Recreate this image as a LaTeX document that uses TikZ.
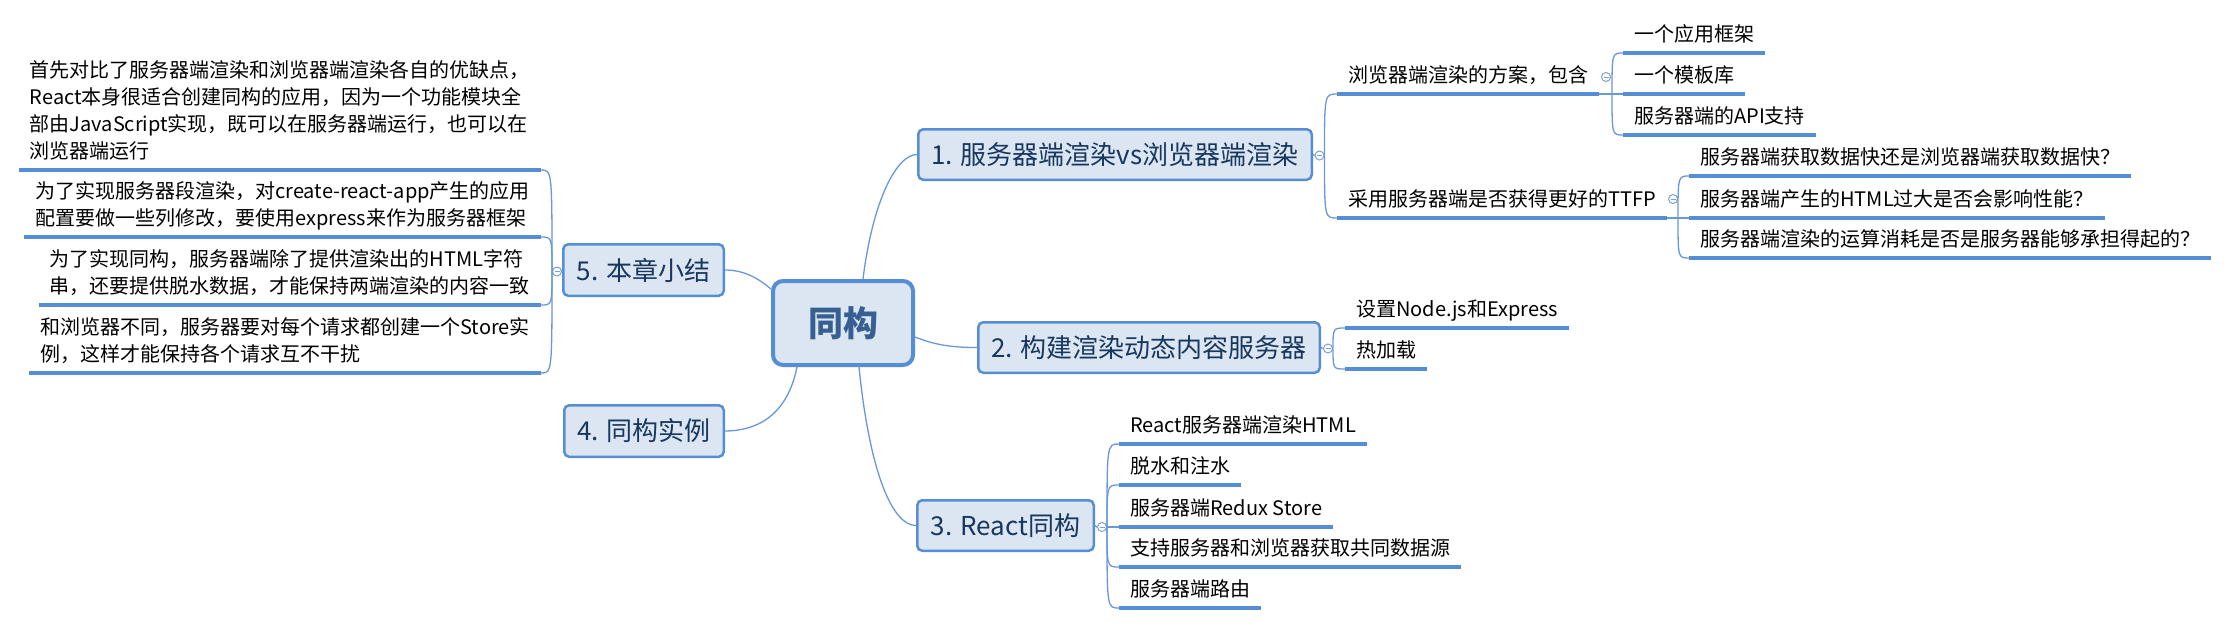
\documentclass[tikz,border=0pt]{standalone}
\usepackage{fontspec}
\setmainfont{Noto Sans CJK SC}
\definecolor{tfill}{RGB}{220,230,242}
\definecolor{tborder}{RGB}{85,142,213}
\definecolor{ttext}{RGB}{23,55,94}
\definecolor{rtext}{RGB}{55,96,146}
\definecolor{connc}{RGB}{105,152,216}
\definecolor{ulc}{RGB}{85,142,213}
\definecolor{btnc}{RGB}{125,160,215}
\tikzset{
 rootbox/.style={draw=tborder, fill=tfill, line width=4pt, rounded corners=10pt, minimum width=140pt, minimum height=84pt, inner sep=0pt, text=rtext, font=\fontsize{35}{40}\selectfont\bfseries},
 topicbox/.style={draw=tborder, fill=tfill, line width=2.5pt, rounded corners=5pt, inner sep=0pt, text=ttext, font=\fontsize{26}{30}\selectfont},
 leaf/.style={inner xsep=11pt, inner ysep=0pt, text depth=11.5pt, font=\fontsize{20}{27}\selectfont, text=black},
 leafml/.style={inner xsep=11pt, inner ysep=0pt, align=left, font=\fontsize{20}{27}\selectfont, text=black},
 uline/.style={draw=ulc, line width=3.5pt},
 conn/.style={draw=connc, line width=1.3pt},
 btn/.style={circle, draw=btnc, fill=white, line width=1pt, minimum size=9pt, inner sep=0pt,
   path picture={\draw[btnc, line width=0.9pt] ([xshift=-2.5pt]path picture bounding box.center) -- ([xshift=2.5pt]path picture bounding box.center);}},
}
\newcommand{\lastdp}{\rule[-11.5pt]{0pt}{11.5pt}}
\begin{document}
\begin{tikzpicture}[x=1pt,y=-1pt]
\useasboundingbox (0,0) rectangle (2230,625);
\fill[white] (0,0) rectangle (2230,625);

% root and main topics
\node[rootbox] (root) at (843,323) {同构};
\node[topicbox, minimum width=393.5pt, minimum height=50.5pt] (t1) at (1115,154.5) {1. 服务器端渲染vs浏览器端渲染};
\node[topicbox, minimum width=341.5pt, minimum height=50.5pt] (t2) at (1149,347.5) {2. 构建渲染动态内容服务器};
\node[topicbox, minimum width=176.5pt, minimum height=50.5pt] (t3) at (1005.5,525.5) {3. React同构};
\node[topicbox, minimum width=159.5pt, minimum height=51.5pt] (t4) at (644,431) {4. 同构实例};
\node[topicbox, minimum width=160.5pt, minimum height=51.5pt] (t5) at (643.5,270) {5. 本章小结};

% collapse buttons
\node[btn] (k1) at (1319.5,155.5) {};
\node[btn] (k2) at (1328,348.5) {};
\node[btn] (k3) at (1102,527) {};
\node[btn] (k5) at (557,271.5) {};
\node[btn] (ks1) at (1606,77) {};
\node[btn] (ks2) at (1673,199) {};
\coordinate (js1) at (1612,94);
\coordinate (js2) at (1678,218);

% leaves of topic 1
\node[leaf, anchor=south west] (s1) at (1337,94) {浏览器端渲染的方案，包含};
\node[leaf, anchor=south west] (s2) at (1337,218) {采用服务器端是否获得更好的TTFP};
\node[leaf, anchor=south west] (a1) at (1623,53) {一个应用框架};
\node[leaf, anchor=south west] (a2) at (1623,94) {一个模板库};
\node[leaf, anchor=south west] (a3) at (1623,135) {服务器端的API支持};
\node[leaf, anchor=south west] (b1) at (1689,176) {服务器端获取数据快还是浏览器端获取数据快？};
\node[leaf, anchor=south west] (b2) at (1689,218) {服务器端产生的HTML过大是否会影响性能？};
\node[leaf, anchor=south west] (b3) at (1689,258) {服务器端渲染的运算消耗是否是服务器能够承担得起的？};
% leaves of topic 2
\node[leaf, anchor=south west] (n1) at (1345,328) {设置Node.js和Express};
\node[leaf, anchor=south west] (n2) at (1345,369) {热加载};
% leaves of topic 3
\node[leaf, anchor=south west] (r1) at (1119,444) {React服务器端渲染HTML};
\node[leaf, anchor=south west] (r2) at (1119,485) {脱水和注水};
\node[leaf, anchor=south west] (r3) at (1119,527) {服务器端Redux Store};
\node[leaf, anchor=south west] (r4) at (1119,567) {支持服务器和浏览器获取共同数据源};
\node[leaf, anchor=south west] (r5) at (1119,608) {服务器端路由};
% leaves of topic 5
\node[leafml, anchor=south east] (m1) at (541,170) {首先对比了服务器端渲染和浏览器端渲染各自的优缺点，\\React本身很适合创建同构的应用，因为一个功能模块全\\部由JavaScript实现，既可以在服务器端运行，也可以在\\浏览器端运行\lastdp};
\node[leafml, anchor=south east] (m2) at (541,237) {为了实现服务器段渲染，对create-react-app产生的应用\\配置要做一些列修改，要使用express来作为服务器框架\lastdp};
\node[leafml, anchor=south east] (m3) at (541,305) {为了实现同构，服务器端除了提供渲染出的HTML字符\\串，还要提供脱水数据，才能保持两端渲染的内容一致\lastdp};
\node[leafml, anchor=south east] (m4) at (541,373) {和浏览器不同，服务器要对每个请求都创建一个Store实\\例，这样才能保持各个请求互不干扰\lastdp};

% underlines
\foreach \q in {s1,s2,a1,a2,a3,b1,b2,b3,n1,n2,r1,r2,r3,r4,r5,m1,m2,m3,m4}
  \draw[uline] (\q.south west) -- (\q.south east);

% root connectors
\draw[conn] ([xshift=20pt]root.north) .. controls +(10,-80) and +(-20,0) .. (t1.west);
\draw[conn] ([yshift=-14pt]root.east) .. controls +(20,8) and +(-25,0) .. (t2.west);
\draw[conn] ([xshift=16pt]root.south) .. controls +(10,100) and +(-25,0) .. (t3.west);
\draw[conn] ([xshift=-46pt]root.south) .. controls +(-10,50) and +(30,0) .. (t4.east);
\draw[conn] ([yshift=34pt]root.west) .. controls +(-12,-10) and +(20,0) .. (t5.east);

% topic to button
\draw[conn] (t1.east) -- (k1.west);
\draw[conn] (t2.east) -- (k2.west);
\draw[conn] (t3.east) -- (k3.west);
\draw[conn] (t5.west) -- (k5.east);

% bracket connectors
\foreach \q in {s1,s2}
  \draw[conn] (k1.east) .. controls (k1.east |- \q.south west) .. (\q.south west);
\draw[conn] (s1.south east) -- (js1);
\foreach \q in {a1,a2,a3}
  \draw[conn] (js1) .. controls (js1 |- \q.south west) .. (\q.south west);
\draw[conn] (s2.south east) -- (js2);
\foreach \q in {b1,b2,b3}
  \draw[conn] (js2) .. controls (js2 |- \q.south west) .. (\q.south west);
\foreach \q in {n1,n2}
  \draw[conn] (k2.east) .. controls (k2.east |- \q.south west) .. (\q.south west);
\foreach \q in {r1,r2,r3,r4,r5}
  \draw[conn] (k3.east) .. controls (k3.east |- \q.south west) .. (\q.south west);
\foreach \q in {m1,m2,m3,m4}
  \draw[conn] (k5.west) .. controls (k5.west |- \q.south east) .. (\q.south east);
\end{tikzpicture}
\end{document}
